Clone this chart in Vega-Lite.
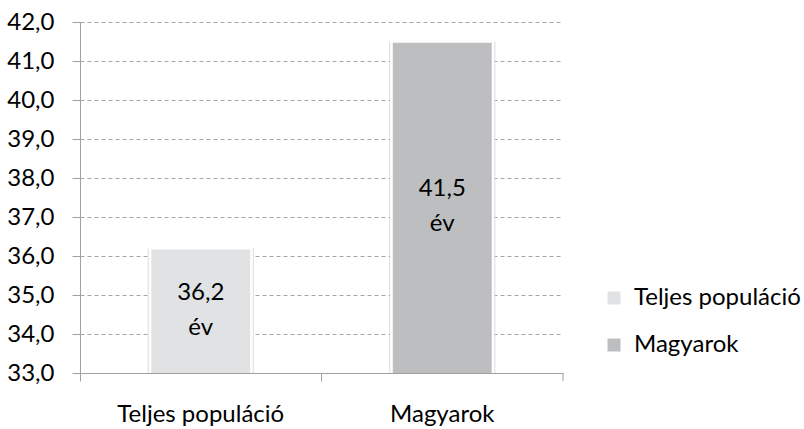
{
  "$schema": "https://vega.github.io/schema/vega-lite/v6.json",
  "autosize": "none",
  "width": 483,
  "height": 351,
  "padding": {"left": 80, "top": 22, "right": 241, "bottom": 56},
  "background": "white",
  "config": {
    "view": {"stroke": null},
    "font": "Lato",
    "axis": {"labelFont": "Lato", "labelFontSize": 24, "labelColor": "#000000", "labelLimit": 0},
    "legend": {"labelFont": "Lato", "labelFontSize": 24, "labelColor": "#000000", "labelLimit": 0}
  },
  "data": {"values": [
    {"group": "Teljes populáció", "value": 36.2, "label": "36,2"},
    {"group": "Magyarok", "value": 41.5, "label": "41,5"}
  ]},
  "transform": [{"calculate": "(datum.value + 33) / 2", "as": "mid"}],
  "layer": [
    {
      "mark": {"type": "bar", "width": {"band": 0.44}, "color": "#d9d2d2", "opacity": 0.7, "clip": true},
      "encoding": {
        "x": {"field": "group", "type": "nominal", "sort": ["Teljes populáció", "Magyarok"],
          "scale": {"paddingInner": 0, "paddingOuter": 0},
          "axis": {"title": null, "orient": "bottom", "labelAngle": 0, "ticks": false, "domain": false, "labelPadding": 29, "grid": false}},
        "y": {"field": "value", "type": "quantitative",
          "scale": {"domain": [33, 42], "nice": false, "zero": false},
          "axis": {"title": null, "values": [33,34,35,36,37,38,39,40,41,42], "labelOverlap": false,
            "labelExpr": "replace(format(datum.value, '.1f'), '.', ',')",
            "tickSize": 8, "tickColor": "#A0A0A0", "domainColor": "#A0A0A0", "labelPadding": 18,
            "grid": true, "gridColor": "#A6A6A6", "gridDash": [4, 3], "gridWidth": 1}}
      }
    },
    {
      "mark": {"type": "bar", "width": {"band": 0.42}, "stroke": "#ffffff", "strokeWidth": 2.5, "clip": true},
      "encoding": {
        "x": {"field": "group", "type": "nominal", "sort": ["Teljes populáció", "Magyarok"], "axis": null},
        "y": {"field": "value", "type": "quantitative",
          "axis": {"title": null, "values": [33,34,35,36,37,38,39,40,41,42], "labelOverlap": false,
            "labelExpr": "replace(format(datum.value, '.1f'), '.', ',')",
            "tickSize": 8, "tickColor": "#A0A0A0", "domainColor": "#A0A0A0", "labelPadding": 18,
            "grid": true, "gridColor": "#A6A6A6", "gridDash": [4, 3], "gridWidth": 1}},
        "color": {"field": "group", "type": "nominal",
          "scale": {"domain": ["Teljes populáció", "Magyarok"], "range": ["#E1E2E4", "#BDBEC0"]},
          "legend": {"title": null, "orient": "none", "legendX": 522, "legendY": 264, "labelLimit": 0,
            "symbolType": "square", "symbolSize": 169, "symbolStrokeWidth": 0, "rowPadding": 23, "labelOffset": 8}}
      }
    },
    {
      "mark": {"type": "text", "fontSize": 24, "color": "#000000", "font": "Lato", "dy": -18},
      "encoding": {
        "x": {"field": "group", "type": "nominal", "sort": ["Teljes populáció", "Magyarok"],
          "axis": {"title": null, "orient": "bottom", "labels": false, "bandPosition": 0, "tickSize": 8, "tickColor": "#A0A0A0", "domainColor": "#A0A0A0", "grid": false}},
        "y": {"field": "mid", "type": "quantitative",
          "axis": {"title": null, "values": [33,34,35,36,37,38,39,40,41,42], "labelOverlap": false,
            "labelExpr": "replace(format(datum.value, '.1f'), '.', ',')",
            "tickSize": 8, "tickColor": "#A0A0A0", "domainColor": "#A0A0A0", "labelPadding": 18,
            "grid": true, "gridColor": "#A6A6A6", "gridDash": [4, 3], "gridWidth": 1}},
        "text": {"field": "label", "type": "nominal"}
      }
    },
    {
      "mark": {"type": "text", "fontSize": 24, "color": "#000000", "dy": 17, "font": "Lato", "text": "év"},
      "encoding": {
        "x": {"field": "group", "type": "nominal", "sort": ["Teljes populáció", "Magyarok"], "axis": null},
        "y": {"field": "mid", "type": "quantitative",
          "axis": {"title": null, "values": [33,34,35,36,37,38,39,40,41,42], "labelOverlap": false,
            "labelExpr": "replace(format(datum.value, '.1f'), '.', ',')",
            "tickSize": 8, "tickColor": "#A0A0A0", "domainColor": "#A0A0A0", "labelPadding": 18,
            "grid": true, "gridColor": "#A6A6A6", "gridDash": [4, 3], "gridWidth": 1}}
      }
    },
    {
      "transform": [{"filter": "datum.group === 'Magyarok'"}],
      "mark": {"type": "rule", "color": "#A0A0A0", "clip": false},
      "encoding": {
        "x": {"field": "group", "type": "nominal", "sort": ["Teljes populáció", "Magyarok"], "bandPosition": 1, "axis": null},
        "y": {"datum": 33, "axis": {"title": null, "values": [33,34,35,36,37,38,39,40,41,42], "labelOverlap": false,
            "labelExpr": "replace(format(datum.value, '.1f'), '.', ',')",
            "tickSize": 8, "tickColor": "#A0A0A0", "domainColor": "#A0A0A0", "labelPadding": 18,
            "grid": true, "gridColor": "#A6A6A6", "gridDash": [4, 3], "gridWidth": 1}},
        "y2": {"datum": 32.795}
      }
    }
  ],
  "resolve": {"axis": {"x": "independent"}}
}
